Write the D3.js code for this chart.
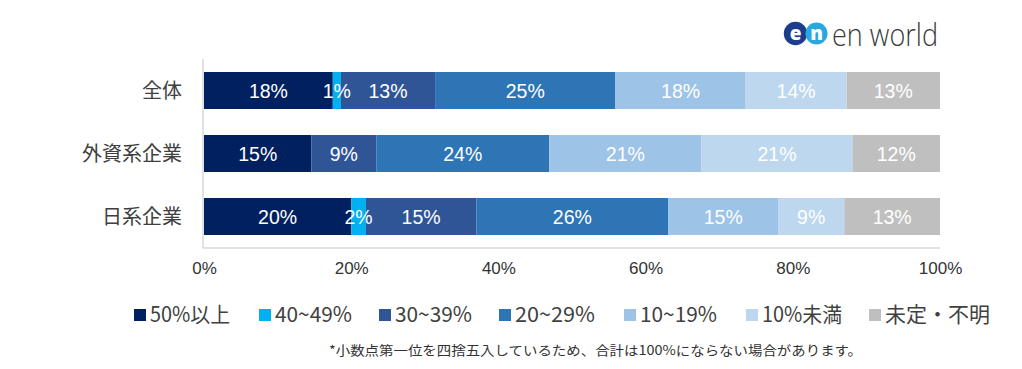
<!DOCTYPE html>
<html><head><meta charset="utf-8">
<script src="https://cdn.jsdelivr.net/npm/d3@7"></script>
<style>html,body{margin:0;padding:0;background:#fff;}svg{display:block;}</style>
</head><body>
<svg id="chart" width="1022" height="369"></svg>
<script>
const categories = ["全体", "外資系企業", "日系企業"];
const seriesNames = ["50%以上", "40~49%", "30~39%", "20~29%", "10~19%", "10%未満", "未定・不明"];
const seriesColors = ["#002060", "#00b0f0", "#2f5597", "#2e75b6", "#9dc3e6", "#bdd7ee", "#bfbfbf"];
const values = [
  [17.5, 1.1, 12.8, 24.5, 17.7, 13.7, 12.7],
  [14.6, 0.0, 8.8, 23.5, 20.7, 20.5, 11.9],
  [20.0, 2.0, 15.0, 26.1, 14.9, 9.0, 13.0]
];
const labels = [
  ["18%", "1%", "13%", "25%", "18%", "14%", "13%"],
  ["15%", "", "9%", "24%", "21%", "21%", "12%"],
  ["20%", "2%", "15%", "26%", "15%", "9%", "13%"]
];
const tickValues = [0, 20, 40, 60, 80, 100];
const legendTextX = [150, 275, 395, 515, 640, 762, 885];
const legendTextW = [80, 77, 77, 80, 77, 80, 105];
const footnote = "*小数点第一位を四捨五入しているため、合計は100%にならない場合があります。";

const svg = d3.select("#chart");
const x = d3.scaleLinear().domain([0, 100]).range([204, 940]);
const y = d3.scaleBand().domain(categories).range([59, 248]).paddingInner(0.413).paddingOuter(0.2065);

const jp = "'Noto Sans CJK JP', 'Noto Sans', sans-serif";
const lat = "'Liberation Sans', Arial, sans-serif";

// axis lines
svg.append("line").attr("x1", 203).attr("x2", 203).attr("y1", 59).attr("y2", 248)
  .attr("stroke", "#d9d9d9").attr("stroke-width", 1.5);
svg.append("line").attr("x1", 203).attr("x2", x(100)).attr("y1", 248).attr("y2", 248)
  .attr("stroke", "#d9d9d9").attr("stroke-width", 1.5);

// bars
categories.forEach((c, i) => {
  let acc = 0;
  values[i].forEach((v, j) => {
    const x0 = x(acc), x1 = x(acc + v);
    acc += v;
    if (v <= 0) return;
    svg.append("rect").attr("x", x0).attr("y", y(c)).attr("width", x1 - x0).attr("height", y.bandwidth())
      .attr("fill", seriesColors[j]);
  });
  acc = 0;
  values[i].forEach((v, j) => {
    const mid = x(acc + v / 2);
    acc += v;
    if (!labels[i][j]) return;
    svg.append("text").attr("x", mid).attr("y", y(c) + y.bandwidth() / 2)
      .attr("dy", "0.36em").attr("text-anchor", "middle")
      .attr("font-family", lat).attr("font-size", 19.5).attr("fill", "#fff")
      .text(labels[i][j]);
  });
  svg.append("text").attr("x", 182).attr("y", y(c) + y.bandwidth() / 2)
    .attr("dy", "0.36em").attr("text-anchor", "end")
    .attr("font-family", jp).attr("font-size", 20).attr("fill", "#404040")
    .text(c);
});

// x axis ticks
const xAxis = d3.axisBottom(x).tickValues(tickValues).tickFormat(d => d + "%").tickSize(0).tickPadding(0);
const gx = svg.append("g").attr("transform", "translate(0,262)").call(xAxis);
gx.select(".domain").remove();
gx.selectAll("text").attr("font-family", lat).attr("font-size", 17).attr("fill", "#333").attr("dy", "0.71em");

// legend
seriesNames.forEach((n, j) => {
  svg.append("rect").attr("x", legendTextX[j] - 16).attr("y", 309).attr("width", 12).attr("height", 12).attr("fill", seriesColors[j]);
  svg.append("text").attr("x", legendTextX[j]).attr("y", 314).attr("dy", "0.36em")
    .attr("font-family", jp).attr("font-size", 21).attr("fill", "#404040")
    .attr("textLength", legendTextW[j]).attr("lengthAdjust", "spacingAndGlyphs")
    .text(n);
});

// footnote
svg.append("text").attr("x", 329).attr("y", 350).attr("dy", "0.36em")
  .attr("font-family", jp).attr("font-size", 13).attr("fill", "#333")
  .attr("textLength", 533).attr("lengthAdjust", "spacingAndGlyphs")
  .text(footnote);

// logo
const logo = svg.append("g");
logo.append("circle").attr("cx", 795.5).attr("cy", 33.5).attr("r", 11.7).attr("fill", "#1c3c8c");
logo.append("circle").attr("cx", 816.5).attr("cy", 33.5).attr("r", 11).attr("fill", "#29a8e0");
logo.append("text").attr("x", 795.5).attr("y", 33.5).attr("dy", "0.35em").attr("text-anchor", "middle")
  .attr("font-family", "'Open Sans', sans-serif").attr("font-weight", 800).attr("font-size", 19).attr("fill", "#fff").text("e");
logo.append("text").attr("x", 816.5).attr("y", 33.5).attr("dy", "0.35em").attr("text-anchor", "middle")
  .attr("font-family", "'Open Sans', sans-serif").attr("font-weight", 800).attr("font-size", 19).attr("fill", "#fff").text("n");
logo.append("text").attr("x", 832).attr("y", 46).attr("font-family", "'Open Sans', sans-serif")
  .attr("font-weight", 300).attr("font-size", 31).attr("fill", "#3a3a3a")
  .attr("textLength", 106).attr("lengthAdjust", "spacingAndGlyphs").text("en world");
</script>
</body></html>
